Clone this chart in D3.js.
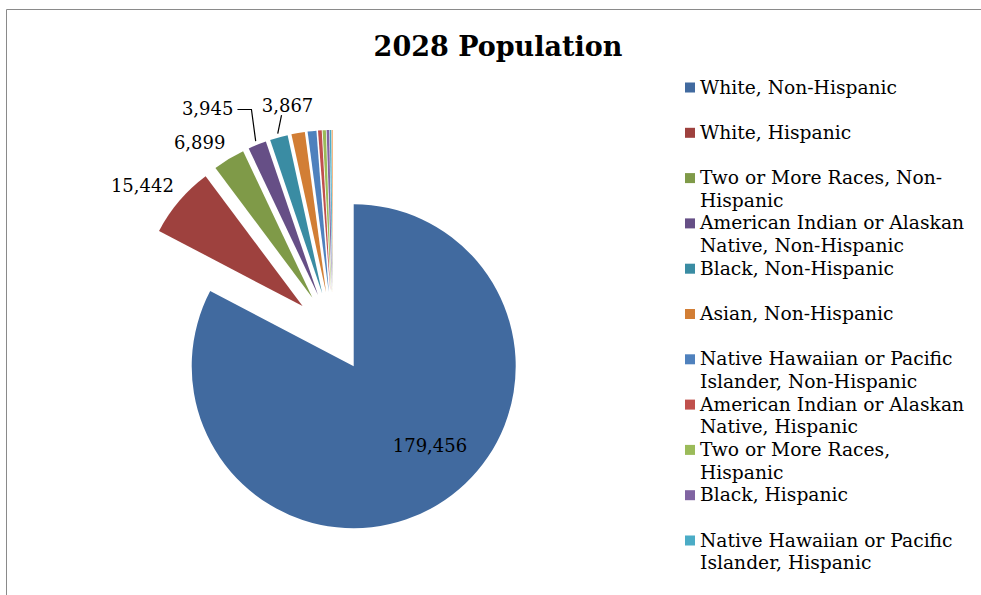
<!DOCTYPE html>
<html>
<head>
<meta charset="utf-8">
<title>2028 Population</title>
<script src="https://cdn.jsdelivr.net/npm/d3@7"></script>
<style>
  body { margin: 0; background: #fff; }
  svg { display: block; }
  text { font-family: "DejaVu Serif", "Liberation Serif", serif; fill: #000; }
</style>
</head>
<body>
<svg id="chart" width="981" height="595"></svg>
<script>
// Population by race / ethnicity, 2028
const categories = [
  "White, Non-Hispanic",
  "White, Hispanic",
  "Two or More Races, Non-Hispanic",
  "American Indian or Alaskan Native, Non-Hispanic",
  "Black, Non-Hispanic",
  "Asian, Non-Hispanic",
  "Native Hawaiian or Pacific Islander, Non-Hispanic",
  "American Indian or Alaskan Native, Hispanic",
  "Two or More Races, Hispanic",
  "Black, Hispanic",
  "Native Hawaiian or Pacific Islander, Hispanic",
  "Asian, Hispanic"
];
const population = [179456, 15442, 6899, 3945, 3867, 2900, 1900, 800, 700, 550, 350, 250];
const sliceColors = [
  "#416a9f", "#9e413e", "#7f9a48", "#664f86", "#3a8ca3", "#d27e35",
  "#4f81bd", "#c0504d", "#9bbb59", "#8064a2", "#4bacc6", "#f9b074"
];
const title = "2028 Population";

// Placement of the value labels (only the five largest slices carry one)
// kind: where the text sits relative to its slice; r/da: polar offset from the slice apex
const labelLayout = [
  { kind: "inside", r: 110, da: -12.7 },
  { kind: "outside", r: 176, da: 2.6, anchor: "end" },
  { kind: "outside", r: 178, da: 1.8, anchor: "end" },
  { kind: "elbow", r: 197, da: 2.3, run: 14, anchor: "end" },
  { kind: "riser", r: 183, da: 2.7, rise: 9, anchor: "middle" }
];

const svg = d3.select("#chart");
const W = 981, H = 595;

// chart area frame
svg.append("path")
  .attr("d", `M6.5,${H} V9.5 H${W}`)
  .attr("fill", "none")
  .attr("stroke", "#8a8a8a")
  .attr("stroke-width", 1);

svg.append("text")
  .attr("x", 498)
  .attr("y", 56)
  .attr("text-anchor", "middle")
  .style("font-size", "27px")
  .style("font-weight", "bold")
  .text(title);

// pie geometry
const cx = 333, cy = 332, R = 162, explode = 40;
const pie = d3.pie().sort(null).value(d => d)(population);
const arc = d3.arc().innerRadius(0).outerRadius(R);

const midAngle = d => (d.startAngle + d.endAngle) / 2;
const polar = (a, r) => [Math.sin(a) * r, -Math.cos(a) * r];

const slices = pie.map((d, i) => {
  const [ox, oy] = polar(midAngle(d), explode);
  return { d, i, apex: [cx + ox, cy + oy] };
});

const g = svg.append("g");
g.selectAll("path.slice")
  .data(slices)
  .join("path")
  .attr("class", "slice")
  .attr("transform", s => `translate(${s.apex[0]},${s.apex[1]})`)
  .attr("d", s => arc(s.d))
  .attr("fill", s => sliceColors[s.i]);

// value labels
const fmt = d3.format(",");
const labelG = svg.append("g").style("font-size", "18px");
labelLayout.forEach((L, i) => {
  const s = slices[i];
  const a = midAngle(s.d);
  const ax = s.apex[0], ay = s.apex[1];
  const [px, py] = polar(a + L.da * Math.PI / 180, L.r);
  const x = ax + px, y = ay + py;
  const txt = fmt(population[i]);
  if (L.kind === "inside" || L.kind === "outside") {
    labelG.append("text")
      .attr("x", x).attr("y", y).attr("dy", "0.35em")
      .attr("text-anchor", L.anchor || "middle")
      .text(txt);
  } else if (L.kind === "elbow") {
    const [ex, ey] = polar(a, R + 4);
    labelG.append("path")
      .attr("d", `M${ax + ex},${ay + ey} L${x},${y} H${x - L.run}`)
      .attr("fill", "none").attr("stroke", "#000").attr("stroke-width", 1.2);
    labelG.append("text")
      .attr("x", x - L.run - 4).attr("y", y - 1).attr("dy", "0.35em")
      .attr("text-anchor", L.anchor)
      .text(txt);
  } else if (L.kind === "riser") {
    const [ex, ey] = polar(a, R + 4);
    labelG.append("path")
      .attr("d", `M${ax + ex},${ay + ey} L${x},${y}`)
      .attr("fill", "none").attr("stroke", "#000").attr("stroke-width", 1.2);
    labelG.append("text")
      .attr("x", x + 6).attr("y", y - L.rise).attr("dy", "0.35em")
      .attr("text-anchor", L.anchor)
      .text(txt);
  }
});

// legend: entries that do not fit above the legend's bottom edge are left out
const legendX = 685, legendTop = 87, legendStep = 45.3, lineH = 22.6, wrapW = 272;
const legendBottom = 578;
const legend = svg.append("g").style("font-size", "18.7px");

function wrapLines(label, textEl) {
  // break on spaces and after hyphens
  const tokens = [];
  label.split(" ").forEach((w, wi) => {
    const parts = w.split(/(?<=-)/);
    parts.forEach((p, pi) => tokens.push({ t: p, space: wi > 0 && pi === 0 }));
  });
  const lines = [];
  let cur = "";
  tokens.forEach(tk => {
    const cand = cur === "" ? tk.t : cur + (tk.space ? " " : "") + tk.t;
    textEl.text(cand);
    if (cur !== "" && textEl.node().getComputedTextLength() > wrapW) {
      lines.push(cur);
      cur = tk.t;
    } else {
      cur = cand;
    }
  });
  if (cur) lines.push(cur);
  textEl.text(null);
  return lines;
}

categories.forEach((name, i) => {
  const yc = legendTop + i * legendStep;
  if (yc + legendStep / 2 > legendBottom + lineH) return;
  const item = legend.append("g");
  const t = item.append("text").attr("x", legendX + 15).attr("y", yc + 6.5);
  const lines = wrapLines(name, t);
  if (yc + 6.5 + (lines.length - 1) * lineH > legendBottom) { item.remove(); return; }
  item.insert("rect", "text")
    .attr("x", legendX).attr("y", yc - 4.5)
    .attr("width", 10).attr("height", 10)
    .attr("fill", sliceColors[i]);
  lines.forEach((ln, li) => {
    t.append("tspan")
      .attr("x", legendX + 15)
      .attr("y", yc + 6.5 + li * lineH)
      .text(ln);
  });
});
</script>
</body>
</html>
